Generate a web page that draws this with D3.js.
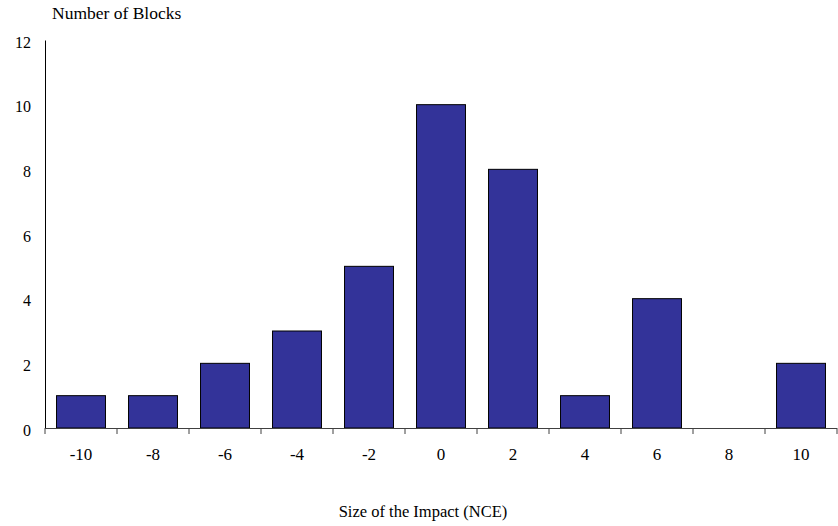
<!DOCTYPE html>
<html><head><meta charset="utf-8">
<script src="https://cdn.jsdelivr.net/npm/d3@7"></script>
<style>body{margin:0;background:#fff}svg{display:block}text{font-family:"Liberation Serif","Times New Roman","DejaVu Serif",serif;fill:#000}</style>
</head><body><svg id="c" width="838" height="526"></svg>
<script>
const categories = ["-10","-8","-6","-4","-2","0","2","4","6","8","10"];
const values = [1,1,2,3,5,10,8,1,4,0,2];
const yTicks = [0,2,4,6,8,10,12];

(function(){
const svg = d3.select("#c");
const FF = '"Liberation Serif","Times New Roman",serif';
const mLeft = 45, mRight = 837, mTop = 40, mBottom = 428;
const x = d3.scaleBand().domain(categories).range([mLeft,mRight]).paddingInner(0.32).paddingOuter(0.16);
const y = d3.scaleLinear().domain([0,12]).range([mBottom,mTop]);

svg.selectAll("rect.bar").data(values).join("rect")
  .attr("class","bar")
  .attr("x",(d,i)=>x(categories[i]))
  .attr("width",x.bandwidth())
  .attr("y",d=>y(d))
  .attr("height",d=>mBottom-y(d))
  .attr("fill",d=>d>0?"#333399":"none")
  .attr("stroke",d=>d>0?"#000":"none")
  .attr("stroke-width",1);

const ya = svg.append("g").attr("transform",`translate(${mLeft},0)`)
  .call(d3.axisLeft(y).tickValues(yTicks).tickSize(0).tickPadding(14));
ya.attr("font-family",FF).attr("font-size",16);
ya.select(".domain").attr("stroke","#000");
ya.selectAll("text").attr("dy","0.44em").attr("fill","#000");

const step = (mRight-mLeft)/categories.length;
const xa = svg.append("g");
xa.append("line").attr("x1",mLeft).attr("x2",mRight).attr("y1",mBottom+0.5).attr("y2",mBottom+0.5).attr("stroke","#404040");
xa.selectAll("line.tk").data(d3.range(categories.length+1)).join("line")
  .attr("class","tk")
  .attr("x1",i=>mLeft+i*step).attr("x2",i=>mLeft+i*step)
  .attr("y1",mBottom).attr("y2",mBottom+6).attr("stroke","#404040");
xa.selectAll("text").data(categories).join("text")
  .attr("x",d=>x(d)+x.bandwidth()/2).attr("y",mBottom+32)
  .attr("text-anchor","middle").attr("font-size",17).attr("font-family",FF).text(d=>d);

svg.append("text").attr("x",52).attr("y",19).attr("font-size",17.5).attr("font-family",FF).text("Number of Blocks");
svg.append("text").attr("x",423).attr("y",517).attr("text-anchor","middle").attr("font-size",16.5).attr("font-family",FF).text("Size of the Impact (NCE)");
})();
</script></body></html>
